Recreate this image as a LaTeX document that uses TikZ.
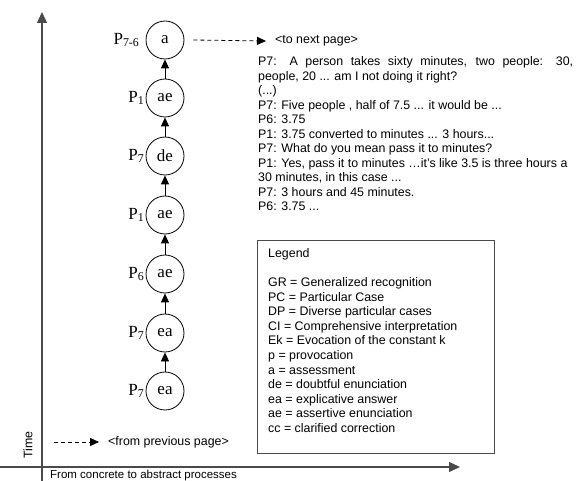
\documentclass[tikz,border=0pt]{standalone}
\usepackage{fontspec}
\setmainfont{Liberation Serif}
\newfontfamily\arialfont{Liberation Sans}
\usetikzlibrary{arrows.meta}
\definecolor{axisgray}{HTML}{4A4A4A}
\begin{document}
\begin{tikzpicture}[x=1pt,y=-1pt,
  state/.style={circle,draw,minimum size=38pt,inner sep=0pt,line width=0.8pt,font=\fontsize{17}{17}\selectfont},
  plab/.style={inner sep=0pt,anchor=east,font=\fontsize{17}{17}\selectfont},
  sanstext/.style={inner sep=0pt,anchor=base west,font=\arialfont\fontsize{12.4}{14}\selectfont},
  tri/.style={-{Triangle[length=9pt,width=8pt]}},
  bigtri/.style={-{Triangle[length=11pt,width=10pt]}},
  dashline/.style={dash pattern=on 4pt off 3pt,line width=0.8pt}]
\useasboundingbox (0,0) rectangle (576,481);
\fill[white] (0,0) rectangle (576,481);

% axes
\coordinate (hstart) at (0,467);
\coordinate (hend) at (460,467);
\coordinate (vstart) at (42,481);
\coordinate (vend) at (42,12);
\draw[axisgray,line width=1.1pt,bigtri] (hstart) -- (hend);
\draw[axisgray,line width=1.1pt,bigtri] (vstart) -- (vend);
\node[sanstext,anchor=center,rotate=90] (time) at (28,445) {Time};
\node[sanstext,font=\arialfont\fontsize{11.5}{13}\selectfont] (xlabel) at (50,478.5) {From concrete to abstract processes};

% chain of states
\node[state] (s7) at (165,40) {a};
\node[state] (s6) at (165,98) {ae};
\node[state] (s5) at (165,156) {de};
\node[state] (s4) at (165,215) {ae};
\node[state] (s3) at (165,274) {ae};
\node[state] (s2) at (165,333) {ea};
\node[state] (s1) at (165,391) {ea};

\node[plab] (p7) at ([xshift=-6pt]s7.west) {P\textsubscript{7-6}};
\node[plab] (p6) at ([xshift=-1pt]s6.west) {P\textsubscript{1}};
\node[plab] (p5) at ([xshift=-1pt]s5.west) {P\textsubscript{7}};
\node[plab] (p4) at ([xshift=-1pt]s4.west) {P\textsubscript{1}};
\node[plab] (p3) at ([xshift=-1pt]s3.west) {P\textsubscript{6}};
\node[plab] (p2) at ([xshift=-1pt]s2.west) {P\textsubscript{7}};
\node[plab] (p1) at ([xshift=-1pt]s1.west) {P\textsubscript{7}};

\foreach \a/\b in {s1/s2,s2/s3,s3/s4,s4/s5,s5/s6,s6/s7}
  \draw[line width=0.8pt,tri] (\a) -- (\b);

% page links
\node[sanstext,anchor=west] (next) at (275,41) {<to next page>};
\draw[dashline,tri] ([xshift=9pt]s7.east) -- ([xshift=-9pt]next.west);
\coordinate (prevstart) at (54,442);
\node[sanstext,anchor=west] (prev) at (108,442) {<from previous page>};
\draw[dashline,tri] (prevstart) -- ([xshift=-9pt]prev.west);

% transcript
\node[sanstext] (t0) at (258,66) {\makebox[315pt][s]{P7: A person takes sixty minutes, two people: 30,}};
\foreach \i/\txt in {1/{people, 20 ... am I not doing it right?},
  2/{(...)},
  3/{P7: Five people , half of 7.5 ... it would be ...},
  4/{P6: 3.75},
  5/{P1: 3.75 converted to minutes ... 3 hours...},
  6/{P7: What do you mean pass it to minutes?},
  7/{P1: Yes, pass it to minutes …it’s like 3.5 is three hours a},
  8/{30 minutes, in this case ...},
  9/{P7: 3 hours and 45 minutes.},
  10/{P6: 3.75 ...}}
  \node[sanstext] (t\i) at (258,66+14.45*\i) {\txt};

% legend
\node[draw,axisgray,line width=0.9pt,minimum width=237pt,minimum height=213pt,inner sep=0pt,anchor=north west] (legend) at (257,240) {};
\node[sanstext] (lg) at (268,257.5) {Legend};
\foreach \i/\txt in {0/{GR = Generalized recognition},
  1/{PC = Particular Case},
  2/{DP = Diverse particular cases},
  3/{CI = Comprehensive interpretation},
  4/{Ek = Evocation of the constant k},
  5/{p = provocation},
  6/{a = assessment},
  7/{de = doubtful enunciation},
  8/{ea = explicative answer},
  9/{ae = assertive enunciation},
  10/{cc = clarified correction}}
  \node[sanstext] (lg\i) at (268,286.5+14.6*\i) {\txt};
\end{tikzpicture}
\end{document}
